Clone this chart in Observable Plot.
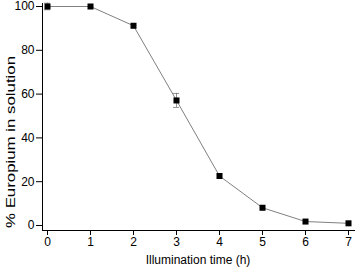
<!DOCTYPE html>
<html>
<head>
<meta charset="utf-8">
<script src="https://cdn.jsdelivr.net/npm/d3@7"></script>
<script src="https://cdn.jsdelivr.net/npm/@observablehq/plot@0.6"></script>
<style>
  html, body { margin: 0; padding: 0; background: #fff; }
</style>
</head>
<body>
<div id="chart"></div>
<script>
const hours = [0, 1, 2, 3, 4, 5, 6, 7];
const europium = [100, 100, 91.2, 57.1, 22.6, 8.1, 1.8, 1.0];
const errors = [1.5, 0, 0, 3.2, 0, 0, 0, 0];
const yTicks = [0, 20, 40, 60, 80, 100];
const xTicks = [0, 1, 2, 3, 4, 5, 6, 7];

const data = hours.map((h, i) => ({x: h, y: europium[i], e: errors[i]}));
const errData = data.filter(d => d.e > 0);

const plot = Plot.plot({
  width: 355,
  height: 268,
  marginLeft: 47,
  marginRight: 7,
  marginTop: 6,
  marginBottom: 43,
  style: {fontFamily: "'Liberation Sans', Arial, sans-serif", fontSize: "12px", color: "#000", background: "#fff"},
  x: {domain: [0, 7]},
  y: {domain: [0, 100]},
  marks: [
    Plot.ruleX([0], {dx: -5, insetBottom: -5, insetTop: -3, stroke: "#000", strokeWidth: 1}),
    Plot.ruleY([0], {dy: 5, insetLeft: -5, insetRight: -7, stroke: "#000", strokeWidth: 1}),
    Plot.axisY({ticks: yTicks, tickSize: 6, dx: -5, tickPadding: 2, fontSize: 12,
      label: "% Europium in solution", labelAnchor: "center", labelArrow: "none", labelOffset: 41}),
    Plot.axisX({ticks: xTicks, tickFormat: d3.format("d"), tickSize: 5, dy: 5, tickPadding: 2, fontSize: 12,
      label: "Illumination time (h)", labelAnchor: "center", labelArrow: "none", labelOffset: 38}),
    Plot.ruleX(errData, {x: "x", y1: d => d.y - d.e, y2: d => d.y + d.e, stroke: "#777", strokeWidth: 0.8}),
    Plot.ruleY(errData, {y: d => d.y + d.e, x1: "x", x2: "x", insetLeft: -3, insetRight: -3, stroke: "#777", strokeWidth: 0.8}),
    Plot.ruleY(errData, {y: d => d.y - d.e, x1: "x", x2: "x", insetLeft: -3, insetRight: -3, stroke: "#777", strokeWidth: 0.8}),
    Plot.line(data, {x: "x", y: "y", stroke: "#808080", strokeWidth: 1}),
    Plot.dot(data, {x: "x", y: "y", symbol: "square", r: 3.4, fill: "#000", stroke: "none"})
  ]
});
document.getElementById("chart").appendChild(plot);

// The reference's vertical axis title is longer and sits a little lower than the frame centre
d3.select(plot).selectAll("text").filter(function() {
  return this.textContent === "% Europium in solution";
}).each(function() {
  const t = this.getAttribute("transform") || "";
  this.setAttribute("transform", "translate(0,26) " + t);
  this.setAttribute("textLength", 172);
  this.setAttribute("lengthAdjust", "spacingAndGlyphs");
  this.setAttribute("fill", "#000");
});
</script>
</body>
</html>
